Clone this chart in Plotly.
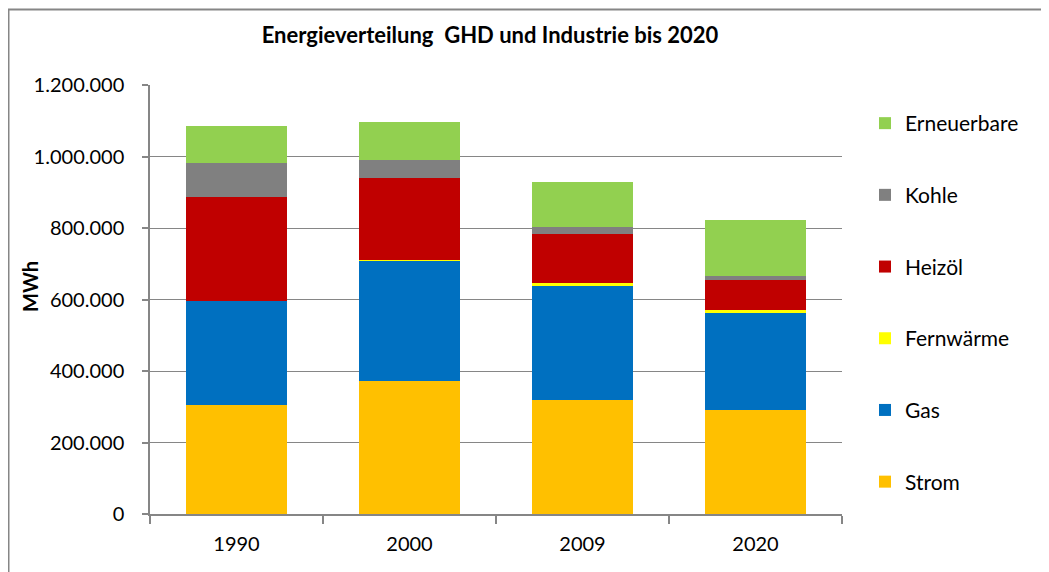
import plotly.graph_objects as go

years = ["1990", "2000", "2009", "2020"]
series_names = ["Strom", "Gas", "Fernwärme", "Heizöl", "Kohle", "Erneuerbare"]
strom = [306000, 371000, 318000, 291000]
gas = [290000, 338000, 320000, 272000]
fernwaerme = [0, 2000, 7000, 7000]
heizoel = [290000, 230000, 139000, 84000]
kohle = [96000, 48000, 20000, 11000]
erneuerbare = [104000, 108000, 125000, 156000]
colors = ["#FFC000", "#0070C0", "#FFFF00", "#C00000", "#808080", "#92D050"]
y_ticks = [0, 200000, 400000, 600000, 800000, 1000000, 1200000]
y_ticklabels = ["0", "200.000", "400.000", "600.000", "800.000", "1.000.000", "1.200.000"]

values = [strom, gas, fernwaerme, heizoel, kohle, erneuerbare]

# page body adds an 8px offset; work in screen coordinates minus 8
OFF = 8
W, H = 1049, 572
L, T = 150 - OFF, 85 - OFF
PR, PB = 842 - OFF, 514 - OFF
R, B = W - PR, H - PB
pw, ph = PR - L, PB - T

FONT = "Lato, 'Open Sans', sans-serif"

fig = go.Figure()
n = len(series_names)
for i, (name, vals, col) in enumerate(zip(series_names, values, colors)):
    fig.add_trace(go.Bar(
        x=years, y=vals, name=name, legendgroup=name, legendrank=1000 - i,
        marker=dict(color=col, line=dict(width=0)),
    ))

def px_x(p):
    # p in screen px
    return (p - OFF - L) / pw

def px_y(p):
    return (PB - (p - OFF)) / ph

fig.update_layout(
    width=W, height=H,
    margin=dict(l=L, r=R, t=T, b=B, autoexpand=False),
    barmode="stack", bargap=0.413,
    paper_bgcolor="white", plot_bgcolor="white",
    font=dict(family=FONT, size=20, color="#000000"),
    title=dict(text="<b>Energieverteilung  GHD und Industrie bis 2020</b>",
               x=px_x(490), xref="paper", xanchor="center",
               y=1 - (35 - OFF) / H, yanchor="middle",
               font=dict(family=FONT, size=22, color="#000000")),
    xaxis=dict(type="category", showgrid=False, showline=True, linecolor="#868686",
               linewidth=1.5, ticks="outside", tickson="boundaries", ticklen=8,
               tickcolor="#868686", tickwidth=1.5, ticklabelstandoff=11,
               tickfont=dict(size=20)),
    yaxis=dict(range=[0, 1200000], tickvals=y_ticks, ticktext=y_ticklabels,
               showgrid=True, gridcolor="#868686", gridwidth=1.2,
               showline=True, linecolor="#868686", linewidth=1.5,
               ticks="outside", ticklen=6, tickcolor="#868686", tickwidth=1.5,
               ticklabelstandoff=14, zeroline=False,
               tickfont=dict(size=20)),
    legend=dict(traceorder="grouped", x=px_x(865), xanchor="left",
                y=px_y(103), yanchor="top", tracegroupgap=41.4,
                font=dict(size=21), bgcolor="rgba(0,0,0,0)"),
    showlegend=True,
    annotations=[dict(text="<b>MWh</b>", textangle=-90, xref="paper", yref="paper",
                      x=px_x(30), y=px_y(287), xanchor="center", yanchor="middle",
                      showarrow=False, font=dict(size=20, color="#000000"))],
    shapes=[dict(type="rect", xref="paper", yref="paper",
                 x0=px_x(8.5), x1=px_x(1300), y0=px_y(800), y1=px_y(9.5),
                 line=dict(color="#868686", width=2), fillcolor="rgba(0,0,0,0)",
                 layer="below")],
)

fig.write_html("out.html")
